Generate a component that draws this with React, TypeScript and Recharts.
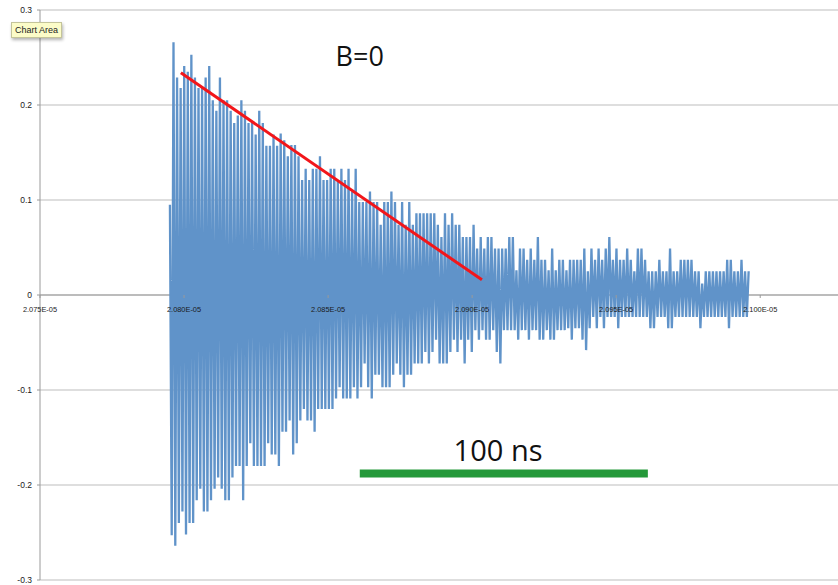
import { CartesianGrid, Line, LineChart, ReferenceDot, ReferenceLine, XAxis, YAxis } from 'recharts';

// ringdown samples (V): one lead-in sample, then trough/peak pairs
const firstSample = 0.095;

const troughs = [
  -0.253, -0.264, -0.24, -0.228, -0.252, -0.24, -0.24, -0.216, -0.204, -0.228,
  -0.228, -0.216, -0.204, -0.192, -0.204, -0.216, -0.216, -0.192, -0.18, -0.18,
  -0.216, -0.18, -0.156, -0.18, -0.18, -0.18, -0.18, -0.156, -0.168, -0.168,
  -0.18, -0.144, -0.144, -0.132, -0.168, -0.156, -0.132, -0.12, -0.132, -0.132,
  -0.144, -0.12, -0.12, -0.12, -0.12, -0.12, -0.109, -0.097, -0.109, -0.109,
  -0.109, -0.097, -0.109, -0.097, -0.072, -0.097, -0.109, -0.084, -0.084, -0.097,
  -0.097, -0.097, -0.084, -0.072, -0.084, -0.097, -0.084, -0.084, -0.072,
  -0.072, -0.072, -0.06, -0.072, -0.06, -0.047, -0.072, -0.072, -0.072, -0.06,
  -0.047, -0.06, -0.047, -0.072, -0.047, -0.06, -0.037, -0.047, -0.037, -0.047,
  -0.047, -0.037, -0.06, -0.072, -0.037, -0.037, -0.037, -0.037, -0.047, -0.037,
  -0.037, -0.047, -0.037, -0.037, -0.047, -0.047, -0.037, -0.047, -0.047, -0.037,
  -0.037, -0.037,
  -0.035, -0.047, -0.035, -0.035, -0.047, -0.058, -0.035, -0.023, -0.035, -0.023,
  -0.035, -0.023, -0.023, -0.023, -0.035, -0.023, -0.023, -0.023, -0.023, -0.023,
  -0.023, -0.023, -0.023, -0.035, -0.035, -0.023, -0.023, -0.023, -0.035, -0.035,
  -0.023, -0.023, -0.023, -0.023, -0.023, -0.023, -0.023, -0.035, -0.023, -0.023,
  -0.023, -0.023, -0.023, -0.023, -0.023, -0.035, -0.023, -0.023, -0.023, -0.023,
  -0.023,
];

const peaks = [
  0.266, 0.229, 0.218, 0.241, 0.235, 0.253, 0.229, 0.218, 0.218, 0.229,
  0.241, 0.205, 0.194, 0.229, 0.205, 0.205, 0.194, 0.181, 0.189, 0.205,
  0.194, 0.181, 0.181, 0.169, 0.194, 0.181, 0.157, 0.157, 0.169, 0.157,
  0.17, 0.163, 0.146, 0.158, 0.158, 0.146, 0.121, 0.133, 0.121, 0.133,
  0.133, 0.146, 0.121, 0.121, 0.133, 0.133, 0.121, 0.133, 0.121, 0.133,
  0.109, 0.133, 0.098, 0.098, 0.098, 0.109, 0.098, 0.098, 0.074, 0.098,
  0.098, 0.109, 0.098, 0.074, 0.098, 0.074, 0.098, 0.074, 0.086,
  0.086, 0.086, 0.086, 0.086, 0.086, 0.074, 0.061, 0.086, 0.074, 0.086,
  0.074, 0.074, 0.061, 0.061, 0.061, 0.074, 0.049, 0.061, 0.049, 0.061,
  0.061, 0.049, 0.049, 0.049, 0.049, 0.061, 0.061, 0.026, 0.049, 0.049,
  0.037, 0.049, 0.037, 0.061, 0.037, 0.037, 0.026, 0.049, 0.026, 0.037,
  0.037, 0.026,
  0.037, 0.037, 0.037, 0.037, 0.049, 0.025, 0.049, 0.037, 0.049, 0.037,
  0.049, 0.061, 0.037, 0.049, 0.037, 0.037, 0.049, 0.037, 0.025, 0.049,
  0.049, 0.037, 0.025, 0.025, 0.025, 0.037, 0.025, 0.025, 0.049, 0.025,
  0.025, 0.037, 0.037, 0.037, 0.037, 0.025, 0.025, 0.012, 0.025, 0.025,
  0.025, 0.025, 0.025, 0.025, 0.037, 0.037, 0.025, 0.025, 0.037, 0.025,
  0.025,
];

// sample grid, ns
const sampleStartNs = 20795.1;
const sampleStepNs = 0.62;

const xTicks = [20750, 20800, 20850, 20900, 20950, 21000];
const yTicks = [-0.3, -0.2, -0.1, 0, 0.1, 0.2, 0.3];

// annotations in data units
const decayFit = [
  { x: 20798.9, y: 0.234 },
  { x: 20903.4, y: 0.016 },
];
const scaleBar = [
  { x: 20861, y: -0.188 },
  { x: 20961, y: -0.188 },
];

const signal = [firstSample, ...troughs.flatMap((tr, i) => [tr, peaks[i]])];
const data = signal.map((v, i) => ({ t: sampleStartNs + i * sampleStepNs, v }));

const W = 838;
const H = 585;
const TOP = 10;
const BOTTOM_AXIS = 5;
const ZERO_Y = TOP + (H - TOP - BOTTOM_AXIS) / 2;

const fmtX = (v: number) => (v / 10000).toFixed(3) + 'E-05';
const fmtY = (v: number) => (v === 0 ? '0' : v.toFixed(1));

function XTick({ x, payload }: any) {
  return (
    <g>
      <line x1={x} x2={x} y1={ZERO_Y} y2={ZERO_Y + 3} stroke="#9a9a9a" />
      <text
        x={x}
        y={ZERO_Y + 17}
        textAnchor="middle"
        fontSize={7.4}
        fill="#1a1a1a"
        fontFamily="Liberation Sans, Arial, sans-serif"
      >
        {fmtX(payload.value)}
      </text>
    </g>
  );
}

export default function App() {
  return (
    <div style={{ position: 'fixed', left: 0, top: 0, width: W, height: H, background: '#fff' }}>
      <LineChart width={W} height={H} data={data} margin={{ top: TOP, right: 0, bottom: 0, left: 0 }}>
        <CartesianGrid vertical={false} stroke="#bdbdbd" />
        <XAxis
          type="number"
          dataKey="t"
          domain={[20750, 21027]}
          ticks={xTicks}
          allowDataOverflow
          axisLine={false}
          tickLine={false}
          height={BOTTOM_AXIS}
          tick={<XTick />}
        />
        <YAxis
          type="number"
          domain={[-0.3, 0.3]}
          ticks={yTicks}
          width={40}
          tickSize={3}
          tickMargin={5}
          tickFormatter={fmtY}
          axisLine={{ stroke: '#9a9a9a' }}
          tickLine={{ stroke: '#9a9a9a' }}
          tick={{ fontSize: 8.5, fill: '#1a1a1a', fontFamily: 'Liberation Sans, Arial, sans-serif' }}
        />
        <ReferenceLine y={0} stroke="#9a9a9a" />
        <Line
          type="linear"
          dataKey="v"
          stroke="#6093c9"
          strokeWidth={2.3}
          dot={false}
          isAnimationActive={false}
        />
        <ReferenceLine segment={decayFit} stroke="#f2161a" strokeWidth={3} />
        <ReferenceLine segment={scaleBar} stroke="#25993a" strokeWidth={8} />
        <ReferenceDot
          x={20861}
          y={0.251}
          r={0}
          fill="none"
          stroke="none"
          label={{ value: 'B=0', position: 'center', fontSize: 27, fill: '#111', fontFamily: 'Open Sans, sans-serif' }}
        />
        <ReferenceDot
          x={20909}
          y={-0.1642}
          r={0}
          fill="none"
          stroke="none"
          label={{ value: '100 ns', position: 'center', fontSize: 29, fill: '#111', fontFamily: 'Open Sans, sans-serif' }}
        />
      </LineChart>
      <div
        style={{
          position: 'absolute',
          left: 11,
          top: 22,
          height: 14,
          padding: '0 3px',
          background: '#fcfcc8',
          border: '1px solid #c4c49a',
          boxShadow: '1px 2px 3px rgba(0,0,0,0.3)',
          fontFamily: 'Liberation Sans, Arial, sans-serif',
          fontSize: 9,
          lineHeight: '14px',
          color: '#222',
          whiteSpace: 'nowrap',
        }}
      >
        Chart Area
      </div>
    </div>
  );
}
